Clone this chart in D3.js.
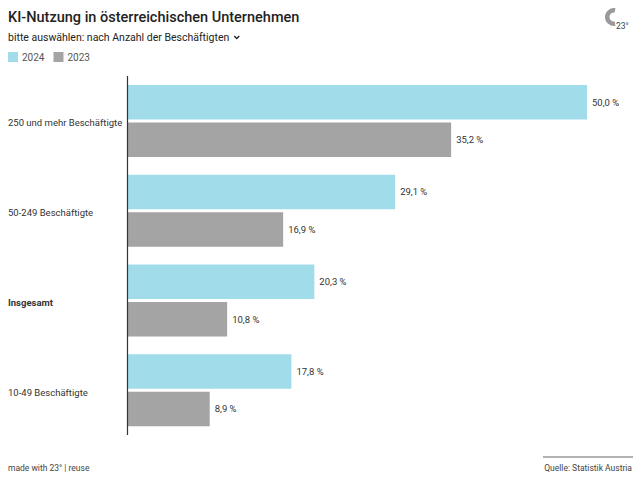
<!DOCTYPE html>
<html><head><meta charset="utf-8">
<script src="https://cdn.jsdelivr.net/npm/d3@7"></script>
<style>body{margin:0;background:#fff}svg{display:block;font-family:Roboto,"Noto Sans",sans-serif}</style>
</head><body>
<svg id="c" width="640" height="480"></svg>
<script>
const categories = ["250 und mehr Beschäftigte","50-249 Beschäftigte","Insgesamt","10-49 Beschäftigte"];
const seriesNames = ["2024","2023"];
const values2024 = [50.0, 29.1, 20.3, 17.8];
const values2023 = [35.2, 16.9, 10.8, 8.9];
const boldCategories = ["Insgesamt"];
const colors = {"2024":"#a1dcea","2023":"#a4a4a4"};

const svg = d3.select("#c");
const fmt = v => d3.format(".1f")(v).replace(".", ",") + " %";

// Header
svg.append("text").attr("x",8).attr("y",22).attr("font-size",14.5).attr("font-weight",500).attr("fill","#222").text("KI-Nutzung in österreichischen Unternehmen");
const sub = svg.append("text").attr("x",8).attr("y",41).attr("font-size",10.5).attr("fill","#222").text("bitte auswählen: nach Anzahl der Beschäftigten");
const sw = sub.node().getComputedTextLength();
svg.append("path").attr("d",`M${8+sw+5},${36} l2.5,2.5 l2.5,-2.5`).attr("fill","none").attr("stroke","#222").attr("stroke-width",1.3);

// Legend
const leg = svg.append("g");
let lx = 8;
seriesNames.forEach(s => {
  leg.append("rect").attr("x",lx).attr("y",52).attr("width",10).attr("height",10).attr("fill",colors[s]);
  const t = leg.append("text").attr("x",lx+14).attr("y",61).attr("font-size",10).attr("fill","#555").text(s);
  lx += 14 + t.node().getComputedTextLength() + 9;
});

// Logo
const logo = svg.append("g").attr("transform","translate(614,17)");
logo.append("path").attr("d", d3.arc()({innerRadius:4.5,outerRadius:9,startAngle:0.05*Math.PI,endAngle:-1.05*Math.PI})).attr("fill","#9a9a9a");
logo.append("text").attr("x",2).attr("y",12).attr("font-size",8.5).attr("fill","#444").text("23°");

// Scales
const x = d3.scaleLinear().domain([0, 50]).range([128, 587]);
const y0 = d3.scaleBand().domain(categories).range([76, 435]).padding(0);
const y1 = d3.scaleBand().domain(seriesNames).range([9, 81]).paddingInner(0.08);

const data = categories.map((c,i) => ({cat:c, vals:[{s:"2024",v:values2024[i]},{s:"2023",v:values2023[i]}]}));

const g = svg.append("g");
const groups = g.selectAll("g.grp").data(data).join("g").attr("class","grp")
  .attr("transform", d => `translate(0,${y0(d.cat)})`);
groups.selectAll("rect").data(d => d.vals).join("rect")
  .attr("x", x(0)).attr("y", d => y1(d.s))
  .attr("width", d => x(d.v) - x(0)).attr("height", y1.bandwidth())
  .attr("fill", d => colors[d.s]);
groups.selectAll("text.val").data(d => d.vals).join("text").attr("class","val")
  .attr("x", d => x(d.v) + 5).attr("y", d => y1(d.s) + y1.bandwidth()/2)
  .attr("dy","0.35em").attr("font-size",9.5).attr("fill","#333").text(d => fmt(d.v));

// Category labels
g.selectAll("text.cat").data(categories).join("text").attr("class","cat")
  .attr("x",8).attr("y", d => y0(d) + 47).attr("dy","0.35em")
  .attr("font-size",9.5).attr("fill","#333")
  .attr("font-weight", d => boldCategories.includes(d) ? 700 : 400)
  .text(d => d);

// Axis line
svg.append("line").attr("x1",127.5).attr("x2",127.5).attr("y1",76).attr("y2",435).attr("stroke","#333").attr("stroke-width",1.2);

// Footer
svg.append("text").attr("x",8).attr("y",471).attr("font-size",8.5).attr("fill","#444").text("made with 23° | reuse");
svg.append("line").attr("x1",543).attr("x2",633).attr("y1",457).attr("y2",457).attr("stroke","#999").attr("stroke-width",1.5);
svg.append("text").attr("x",632).attr("y",471).attr("text-anchor","end").attr("font-size",8.5).attr("fill","#444").text("Quelle: Statistik Austria");
</script>
</body></html>
